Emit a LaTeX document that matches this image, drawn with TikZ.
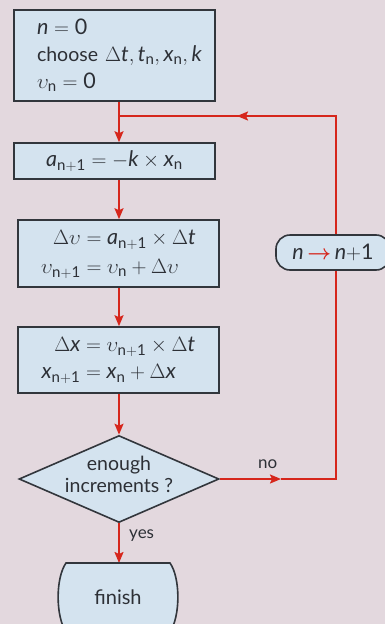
\documentclass[tikz,border=0pt]{standalone}
\usepackage{amsmath}
\usepackage{fontspec}
\setmainfont{Lato}
\usetikzlibrary{arrows.meta,shapes.geometric}
\definecolor{bg}{RGB}{227,216,222}
\definecolor{boxfill}{RGB}{212,227,239}
\definecolor{myred}{RGB}{214,38,28}
\definecolor{edge}{RGB}{50,54,60}
\definecolor{ink}{RGB}{45,48,54}
\newcommand{\vv}{\upsilon}
\newcommand{\txt}[1]{{\fontsize{19.5}{27}\selectfont #1}}
\tikzset{
  box/.style={draw=edge, line width=1.6pt, fill=boxfill, rectangle, inner sep=0pt,
              text=ink, font=\fontsize{21.5}{27}\selectfont},
  flow/.style={draw=myred, line width=1.8pt},
  tip/.style={-{Stealth[length=11pt,width=9pt,inset=2pt]}},
  lbl/.style={font=\fontsize{17}{20}\selectfont, text=ink, inner sep=0pt},
}
\begin{document}
\begin{tikzpicture}[x=1pt,y=-1pt]
\useasboundingbox (0,0) rectangle (385,624);
\fill[bg] (0,0) rectangle (385,624);
\begin{scope}
\clip (0,0) rectangle (385,624);
% column of the main flow
\coordinate (col) at (119,0);
\coordinate (right) at (336,0);
% nodes
\node[box, minimum width=201pt, minimum height=91pt, text width=155pt, align=left]
  (init) at (114.5,55.5)
  {\mbox{$\mathit{n}=\mathrm{0}$}\\
   \mbox{\txt{choose} $\Delta \mathit{t}, \mathit{t}_{\mathrm{n}}, \mathit{x}_{\mathrm{n}}, \mathit{k}$}\\
   \mbox{$\vv_{\mathrm{n}}=\mathrm{0}$}};
\node[box, minimum width=201pt, minimum height=36pt] (acc) at (114.5,161)
  {$\mathit{a}_{\mathrm{n+1}} = -\mathit{k}\times \mathit{x}_{\mathrm{n}}$};
\node[box, minimum width=201pt, minimum height=67pt] (vel) at (118.5,253.5)
  {$\begin{aligned}\Delta\vv &= \mathit{a}_{\mathrm{n+1}}\times\Delta \mathit{t}\\[-1pt]
     \vv_{\mathrm{n+1}} &= \vv_{\mathrm{n}}+\Delta\vv\end{aligned}$};
\node[box, minimum width=201pt, minimum height=66pt] (pos) at (118.5,360)
  {$\begin{aligned}\Delta \mathit{x} &= \vv_{\mathrm{n+1}}\times\Delta \mathit{t}\\[-3pt]
     \mathit{x}_{\mathrm{n+1}} &= \mathit{x}_{\mathrm{n}}+\Delta \mathit{x}\end{aligned}$};
\node[box, shape=diamond, minimum width=200pt, minimum height=87pt] (test) at (119,479) {};
\node[align=center, inner sep=0pt, text=ink, font=\fontsize{19.5}{22}\selectfont]
  (testtext) at (119,474) {enough\\increments ?};
% connectors of the main column
\coordinate (join) at (col |- 0,116);
\draw[flow] (init.south -| col) -- (join);
\draw[flow,tip] (join) -- (acc.north -| col);
\draw[flow,tip] (acc.south -| col) -- (vel.north -| col);
\draw[flow,tip] (vel.south -| col) -- (pos.north -| col);
\draw[flow,tip] (pos.south -| col) -- (test.north);
% loop back
\coordinate (noarrow) at (281,479);
\coordinate (corner1) at (right |- test.east);
\coordinate (corner2) at (right |- join);
\coordinate (backarrow) at (237,116);
\draw[flow,tip] (test.east) -- (noarrow);
\draw[flow] (noarrow) -- (corner1) -- (corner2) -- (backarrow);
\draw[flow,tip] (corner2) -- (backarrow);
\draw[flow] (backarrow) -- (join);
\node[box, rounded corners=14pt, minimum width=114pt, minimum height=35pt]
  (inc) at (333,252.5)
  {$\mathit{n}$\,\textcolor{myred}{$\boldsymbol{\rightarrow}$}\,$\mathit{n}{+}\mathrm{1}$};
\node[lbl, anchor=base west] (no) at (258,468) {no};
% finish
\coordinate (fintop) at (119,563);
\draw[flow,tip] (test.south) -- (fintop);
\node[lbl, anchor=base west] (yes) at (129,538) {yes};
\filldraw[draw=edge, fill=boxfill, line width=1.6pt]
  (66,563) -- (170,563) .. controls (180.5,578) and (180.5,616) .. (170,632)
  -- (66,632) .. controls (55.5,616) and (55.5,578) .. (66,563) -- cycle;
\node[inner sep=0pt, font=\fontsize{20}{20}\selectfont, text=ink] (fin) at (118,597) {finish};
\end{scope}
\end{tikzpicture}
\end{document}
